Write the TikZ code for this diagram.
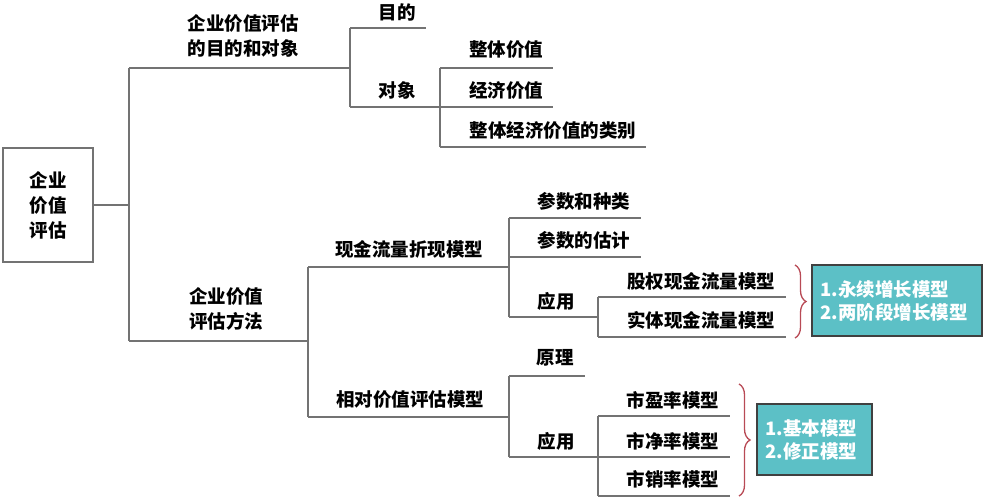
\documentclass[tikz,border=0pt]{standalone}
\usepackage{fontspec}
\newfontfamily\cjk{Noto Sans CJK SC}
\usetikzlibrary{positioning,decorations.pathreplacing}
\definecolor{treegray}{RGB}{115,115,115}
\definecolor{boxteal}{RGB}{92,192,198}
\definecolor{bracered}{RGB}{184,74,85}

\begin{document}
\begin{tikzpicture}[x=1pt,y=-1pt]
			\tikzset{tline/.style={draw=treegray,line width=1.6pt},
        lbl/.style={font=\cjk\bfseries\fontsize{18.5}{25}\selectfont,inner sep=0pt,align=center},
        rootbox/.style={draw=treegray,line width=1.6pt,rectangle,align=center,minimum width=90,minimum height=114,font=\cjk\bfseries\fontsize{18.5}{25}\selectfont},
        tbox/.style={draw=black!75,line width=1.2pt,fill=boxteal,text=white,align=left,inner sep=0pt,font=\cjk\bfseries\fontsize{18.5}{23}\selectfont},
        cbrace/.style={draw=bracered,line width=1.3pt,decorate,decoration={brace,amplitude=11pt}},
        }
			\useasboundingbox (0,0) rectangle (984,499);

			% root
			\node [rootbox] (root) at (48,205) {企业\\价值\\评估};
			\coordinate (trunk) at (129,205);
			\coordinate (trunkT) at (129,68);
			\coordinate (trunkB) at (129,341);
			\draw[tline] (root.east) -- (trunk);
			\draw[tline] (trunkT) -- (trunkB);

			% upper branch
			\coordinate (upJ) at (350,68);
			\node [lbl] (goal) at (243,36) {企业价值评估\\的目的和对象};
			\draw[tline] (trunkT) -- (upJ);
			\coordinate (upT) at (350,28);
			\coordinate (upB) at (350,107);
			\draw[tline] (upT) -- (upB);
			\node [lbl] (aim) at (397,12) {目的};
			\coordinate (aimE) at (426,28);
			\draw[tline] (upT) -- (aimE);
			\node [lbl] (obj) at (397,90) {对象};
			\coordinate (objJ) at (440,107);
			\draw[tline] (upB) -- (objJ);
			\coordinate (objT) at (440,68);
			\coordinate (objB) at (440,147);
			\draw[tline] (objT) -- (objB);
			\node [lbl] (whole) at (506,50) {整体价值};
			\coordinate (wholeE) at (553,68);
			\draw[tline] (objT) -- (wholeE);
			\node [lbl] (econ) at (506,90) {经济价值};
			\coordinate (econE) at (553,107);
			\draw[tline] (objJ) -- (econE);
			\node [lbl] (kind) at (553,130) {整体经济价值的类别};
			\coordinate (kindE) at (646,147);
			\draw[tline] (objB) -- (kindE);

			% lower branch
			\coordinate (loJ) at (308,341);
			\node [lbl] (meth) at (226,309) {企业价值\\评估方法};
			\draw[tline] (trunkB) -- (loJ);
			\coordinate (loT) at (308,267);
			\coordinate (loB) at (308,417);
			\draw[tline] (loT) -- (loB);

			% discounted cash flow
			\node [lbl] (dcf) at (409,249) {现金流量折现模型};
			\coordinate (dcfJ) at (509,267);
			\draw[tline] (loT) -- (dcfJ);
			\coordinate (dcfT) at (509,218);
			\coordinate (dcfB) at (509,317);
			\draw[tline] (dcfT) -- (dcfB);
			\node [lbl] (para) at (584,201) {参数和种类};
			\coordinate (paraE) at (641,218);
			\draw[tline] (dcfT) -- (paraE);
			\node [lbl] (est) at (584,240) {参数的估计};
			\coordinate (estE) at (641,257);
			\draw[tline] (dcfJ |- estE) -- (estE);
			\node [lbl] (use1) at (556,301) {应用};
			\coordinate (use1J) at (598,317);
			\draw[tline] (dcfB) -- (use1J);
			\coordinate (use1T) at (598,297);
			\coordinate (use1B) at (598,337);
			\draw[tline] (use1T) -- (use1B);
			\node [lbl] (equity) at (701,281) {股权现金流量模型};
			\coordinate (equityE) at (786,297);
			\draw[tline] (use1T) -- (equityE);
			\node [lbl] (entity) at (701,320) {实体现金流量模型};
			\coordinate (entityE) at (786,337);
			\draw[tline] (use1B) -- (entityE);
			\coordinate (br1T) at (795,265);
			\coordinate (br1B) at (795,338);
			\draw[cbrace] (br1T) -- (br1B);
			\node [tbox,minimum width=170,minimum height=71,text width=153] (grow) at (897,300.5) {1.永续增长模型\\2.两阶段增长模型};

			% relative valuation
			\node [lbl] (rel) at (410,400) {相对价值评估模型};
			\draw[tline] (loB) -- (dcfJ |- loB);
			\coordinate (relT) at (509,376);
			\coordinate (relB) at (509,457);
			\draw[tline] (relT) -- (relB);
			\node [lbl] (prin) at (555,358) {原理};
			\coordinate (prinE) at (585,376);
			\draw[tline] (relT) -- (prinE);
			\node [lbl] (use2) at (556,441) {应用};
			\coordinate (use2J) at (598,457);
			\draw[tline] (relB) -- (use2J);
			\coordinate (use2T) at (598,416);
			\coordinate (use2B) at (598,496);
			\draw[tline] (use2T) -- (use2B);
			\node [lbl] (pe) at (673,400) {市盈率模型};
			\coordinate (peE) at (730,416);
			\draw[tline] (use2T) -- (peE);
			\node [lbl] (pb) at (673,441) {市净率模型};
			\coordinate (pbE) at (730,457);
			\draw[tline] (use2J) -- (pbE);
			\node [lbl] (ps) at (673,479) {市销率模型};
			\coordinate (psE) at (730,496);
			\draw[tline] (use2B) -- (psE);
			\coordinate (br2T) at (739,384);
			\coordinate (br2B) at (739,496);
			\draw[cbrace] (br2T) -- (br2B);
			\node [tbox,minimum width=115,minimum height=71,text width=98] (basic) at (814.5,439.5) {1.基本模型\\2.修正模型};

		\end{tikzpicture}
\end{document}
